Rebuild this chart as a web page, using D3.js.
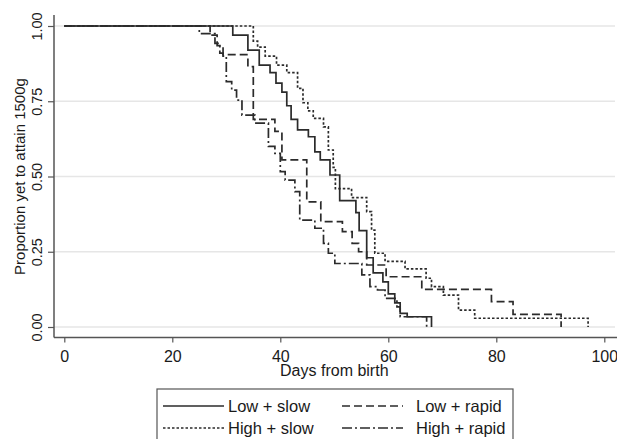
<!DOCTYPE html>
<html>
<head>
<meta charset="utf-8">
<script src="https://cdn.jsdelivr.net/npm/d3@7"></script>
<style>
  body { margin: 0; background: #fff; }
  text { font-family: "Liberation Sans", Arial, sans-serif; fill: #1a1a1a; }
</style>
</head>
<body>
<div id="wrapper"></div>
<script>
// step curves: day of each drop and proportion after it
const lowSlowDays = [0, 31.2, 34, 36.1, 38.1, 39.2, 40.3, 41.2, 42, 43.2, 45.2, 46.4, 47.4, 49.2, 51, 54, 54.6, 56, 57.2, 59, 60, 61.2, 62.2, 63.5, 68];
const lowSlowSurv = [1, 0.97, 0.92, 0.87, 0.845, 0.81, 0.78, 0.735, 0.69, 0.655, 0.632, 0.582, 0.555, 0.505, 0.42, 0.38, 0.32, 0.23, 0.18, 0.15, 0.11, 0.08, 0.045, 0.034, 0];

const highSlowDays = [0, 35, 35.8, 37.2, 39.3, 41.2, 43.2, 44.2, 45.1, 46.1, 48, 48.9, 49.8, 50.2, 53.2, 56, 56.9, 57.5, 59.4, 63.1, 67, 68, 70.2, 73, 76, 97];
const highSlowSurv = [1, 0.95, 0.93, 0.9, 0.87, 0.845, 0.793, 0.745, 0.718, 0.693, 0.665, 0.588, 0.53, 0.46, 0.43, 0.383, 0.322, 0.245, 0.218, 0.193, 0.162, 0.134, 0.106, 0.056, 0.029, 0];

const lowRapidDays = [0, 27, 28.3, 29.4, 34, 35, 39, 40.3, 44.9, 47.5, 51.5, 53.3, 54.5, 56, 59.6, 66.2, 79.1, 83.1, 92];
const lowRapidSurv = [1, 0.97, 0.935, 0.905, 0.865, 0.69, 0.65, 0.555, 0.416, 0.35, 0.317, 0.278, 0.25, 0.206, 0.167, 0.125, 0.084, 0.042, 0];

const highRapidDays = [0, 25, 27.9, 28.8, 29.4, 30, 31, 31.9, 32.9, 35.3, 37.8, 39, 40, 40.9, 42.7, 43.6, 46.4, 48, 48.9, 50.1, 55.1, 56.6, 58, 59.4, 61.6, 62.2, 67.1];
const highRapidSurv = [1, 0.975, 0.942, 0.91, 0.9, 0.815, 0.787, 0.754, 0.704, 0.677, 0.6, 0.577, 0.516, 0.488, 0.45, 0.355, 0.328, 0.278, 0.245, 0.211, 0.173, 0.134, 0.123, 0.095, 0.067, 0.034, 0];

const xTicks = [0, 20, 40, 60, 80, 100];
const yTicks = [0, 0.25, 0.5, 0.75, 1];

const seriesNames = ["Low + slow", "Low + rapid", "High + slow", "High + rapid"];

function drawChart() {
  const dimensions = { width: 617, height: 439 };

  const series = [
    { name: seriesNames[0], days: lowSlowDays, surv: lowSlowSurv, dash: null },
    { name: seriesNames[1], days: lowRapidDays, surv: lowRapidSurv, dash: "8,4" },
    { name: seriesNames[2], days: highSlowDays, surv: highSlowSurv, dash: "2.5,2" },
    { name: seriesNames[3], days: highRapidDays, surv: highRapidSurv, dash: "10,3,2,3" },
  ];

  const chart = d3
    .select("#wrapper")
    .append("svg")
    .attr("width", dimensions.width)
    .attr("height", dimensions.height);

  // scales
  const xScale = d3.scaleLinear().domain([0, 100]).range([64.3, 604.3]);
  const yScale = d3.scaleLinear().domain([0, 1]).range([327, 26]);
  const axisLeftX = 54;
  const axisBottomY = 337.5;

  // gridlines
  chart
    .selectAll(".grid")
    .data(yTicks)
    .enter()
    .append("line")
    .attr("x1", axisLeftX)
    .attr("x2", 615)
    .attr("y1", (d) => yScale(d))
    .attr("y2", (d) => yScale(d))
    .attr("stroke", "#e6e6e6")
    .attr("stroke-width", 1.3);

  // y axis
  const yAxis = d3
    .axisLeft(yScale)
    .tickValues(yTicks)
    .tickFormat(d3.format(".2f"))
    .tickSize(6)
    .tickSizeOuter(0);
  const yAxisGroup = chart
    .append("g")
    .attr("transform", `translate(${axisLeftX},0)`)
    .call(yAxis);
  yAxisGroup.select(".domain").remove();
  yAxisGroup.selectAll("line").attr("stroke", "#555").attr("stroke-width", 1.2);
  yAxisGroup
    .selectAll("text")
    .attr("x", null)
    .attr("dy", null)
    .attr("text-anchor", "middle")
    .attr("transform", "translate(-12,0) rotate(-90)")
    .style("font-size", "14.5px")
    .style("font-family", "Liberation Sans, Arial, sans-serif")
    .attr("fill", "#1a1a1a");
  chart
    .append("line")
    .attr("x1", axisLeftX)
    .attr("x2", axisLeftX)
    .attr("y1", 15)
    .attr("y2", axisBottomY)
    .attr("stroke", "#555")
    .attr("stroke-width", 1.5);

  // x axis
  const xAxis = d3.axisBottom(xScale).tickValues(xTicks).tickSize(5).tickSizeOuter(0);
  const xAxisGroup = chart
    .append("g")
    .attr("transform", `translate(0,${axisBottomY})`)
    .call(xAxis);
  xAxisGroup.select(".domain").remove();
  xAxisGroup.selectAll("line").attr("stroke", "#555").attr("stroke-width", 1.2);
  xAxisGroup
    .selectAll("text")
    .attr("y", 24.5)
    .attr("dy", null)
    .style("font-size", "16px")
    .style("font-family", "Liberation Sans, Arial, sans-serif")
    .attr("fill", "#1a1a1a");
  chart
    .append("line")
    .attr("x1", axisLeftX)
    .attr("x2", 617)
    .attr("y1", axisBottomY)
    .attr("y2", axisBottomY)
    .attr("stroke", "#555")
    .attr("stroke-width", 1.5);

  // axis titles
  chart
    .append("text")
    .attr("text-anchor", "middle")
    .attr("transform", `translate(${xScale(50)},376)`)
    .style("font-size", "16px")
    .text("Days from birth");
  chart
    .append("text")
    .attr("text-anchor", "middle")
    .attr("transform", `translate(25,${(yScale(0) + yScale(1)) / 2}) rotate(-90)`)
    .style("font-size", "15px")
    .text("Proportion yet to attain 1500g");

  // step curves
  const lineGenerator = d3
    .line()
    .x((d) => xScale(d[0]))
    .y((d) => yScale(d[1]))
    .curve(d3.curveStepAfter);

  chart
    .selectAll(".curve")
    .data(series)
    .enter()
    .append("path")
    .attr("class", "curve")
    .attr("d", (s) => lineGenerator(s.days.map((d, i) => [d, s.surv[i]])))
    .attr("fill", "none")
    .attr("stroke", "#2b2b2b")
    .attr("stroke-width", 1.7)
    .attr("stroke-dasharray", (s) => s.dash);

  // legend
  const legend = chart.append("g");
  legend
    .append("rect")
    .attr("x", 157)
    .attr("y", 389)
    .attr("width", 356)
    .attr("height", 70)
    .attr("fill", "#fff")
    .attr("stroke", "#555")
    .attr("stroke-width", 1.2);

  const legendCols = [
    { keyX: 163, textX: 228 },
    { keyX: 342, textX: 416 },
  ];
  const legendRows = [406, 428];

  const items = legend
    .selectAll(".item")
    .data(series)
    .enter()
    .append("g")
    .attr("class", "item")
    .attr("transform", (d, i) => `translate(0,${legendRows[Math.floor(i / 2)]})`);

  items
    .append("line")
    .attr("x1", (d, i) => legendCols[i % 2].keyX)
    .attr("x2", (d, i) => legendCols[i % 2].keyX + 61)
    .attr("y1", 0)
    .attr("y2", 0)
    .attr("stroke", "#2b2b2b")
    .attr("stroke-width", 1.5)
    .attr("stroke-dasharray", (d) => d.dash);

  items
    .append("text")
    .attr("x", (d, i) => legendCols[i % 2].textX)
    .attr("y", 6)
    .style("font-size", "16.5px")
    .text((d) => d.name);
}
drawChart();
</script>
</body>
</html>
